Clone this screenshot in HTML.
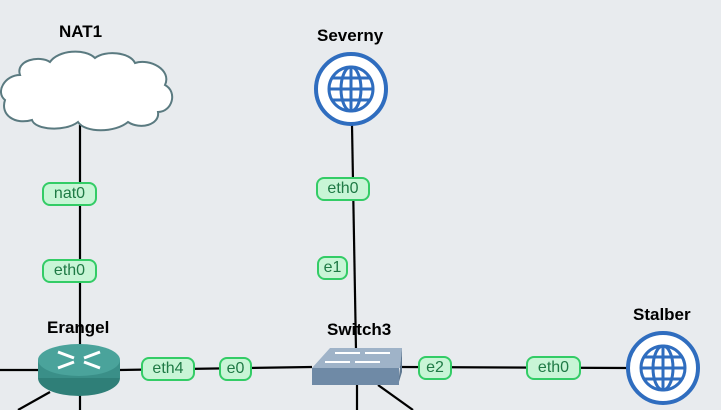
<!DOCTYPE html>
<html><head><style>
body{margin:0;width:721px;height:410px;overflow:hidden;background:#e8ebee;font-family:"Liberation Sans",sans-serif}
.l{position:absolute;height:20px;border:2px solid #33cc66;border-radius:8px;background:#c8f5d6;color:#1f7a45;font-size:16px;line-height:20px;text-align:center;box-sizing:content-box}
.t{position:absolute;font-weight:bold;font-size:17px;color:#000}
</style></head><body>
<svg width="721" height="410" style="position:absolute;left:0;top:0">
<g stroke="#000" stroke-width="2.2" fill="none">
<line x1="80" y1="125" x2="80" y2="410"/>
<line x1="0" y1="370" x2="118" y2="370"/>
<line x1="118" y1="370" x2="312" y2="367"/>
<line x1="50" y1="392" x2="18" y2="410"/>
<line x1="352" y1="125" x2="356" y2="350"/>
<line x1="357" y1="385" x2="357" y2="410"/>
<line x1="378" y1="385" x2="413" y2="410"/>
<line x1="400" y1="367" x2="628" y2="368"/>
</g>
<!-- cloud -->
<path d="M20,75 C15,60 40,55 50,62 C58,50 85,48 95,58 C105,50 130,52 135,63 C150,58 172,70 165,85 C178,92 172,112 158,112 C160,125 140,130 128,122 C115,133 85,133 78,122 C65,132 35,130 32,120 C15,125 0,115 5,100 C-5,92 5,75 20,75 Z" fill="#fff" stroke="#5a7a80" stroke-width="2"/>
<!-- router -->
<ellipse cx="79" cy="378" rx="41" ry="18" fill="#2f7f78"/>
<rect x="38" y="360" width="82" height="18" fill="#3a8f88"/>
<ellipse cx="79" cy="360" rx="41" ry="16" fill="#4aa39b"/>
<g stroke="#fff" stroke-width="3"><line x1="58" y1="352" x2="74" y2="358"/><line x1="84" y1="362" x2="100" y2="368"/><line x1="100" y1="352" x2="84" y2="358"/><line x1="74" y1="362" x2="58" y2="368"/></g>
<!-- switch -->
<polygon points="312,368 330,348 402,348 400,368" fill="#9fb3c8"/>
<polygon points="400,368 402,348 402,372 398,385" fill="#5f7891"/>
<rect x="312" y="368" width="87" height="17" fill="#6f8aa6"/>
<g stroke="#fff" stroke-width="2"><line x1="335" y1="353" x2="360" y2="353"/><line x1="365" y1="353" x2="390" y2="353"/><line x1="325" y1="362" x2="350" y2="362"/><line x1="355" y1="362" x2="380" y2="362"/></g>
<!-- globes -->
<g fill="#fff" stroke="#2f6dbf" stroke-width="4">
<circle cx="351" cy="89" r="35"/><circle cx="663" cy="368" r="35"/>
</g>
<g fill="none" stroke="#2f6dbf" stroke-width="3">
<circle cx="351" cy="89" r="22"/><ellipse cx="351" cy="89" rx="10" ry="22"/><line x1="351" y1="67" x2="351" y2="111"/><line x1="329" y1="89" x2="373" y2="89"/><line x1="333" y1="78" x2="369" y2="78"/><line x1="333" y1="100" x2="369" y2="100"/>
<circle cx="663" cy="368" r="22"/><ellipse cx="663" cy="368" rx="10" ry="22"/><line x1="663" y1="346" x2="663" y2="390"/><line x1="641" y1="368" x2="685" y2="368"/><line x1="645" y1="357" x2="681" y2="357"/><line x1="645" y1="379" x2="681" y2="379"/>
</g>
</svg>
<div class="t" style="left:59px;top:22px">NAT1</div>
<div class="t" style="left:317px;top:26px">Severny</div>
<div class="t" style="left:47px;top:318px">Erangel</div>
<div class="t" style="left:327px;top:320px">Switch3</div>
<div class="t" style="left:633px;top:305px">Stalber</div>
<div class="l" style="left:42px;top:182px;width:51px">nat0</div>
<div class="l" style="left:42px;top:259px;width:51px">eth0</div>
<div class="l" style="left:316px;top:177px;width:50px">eth0</div>
<div class="l" style="left:317px;top:256px;width:27px">e1</div>
<div class="l" style="left:141px;top:357px;width:50px">eth4</div>
<div class="l" style="left:219px;top:357px;width:29px">e0</div>
<div class="l" style="left:418px;top:356px;width:30px">e2</div>
<div class="l" style="left:526px;top:356px;width:51px">eth0</div>
</body></html>
